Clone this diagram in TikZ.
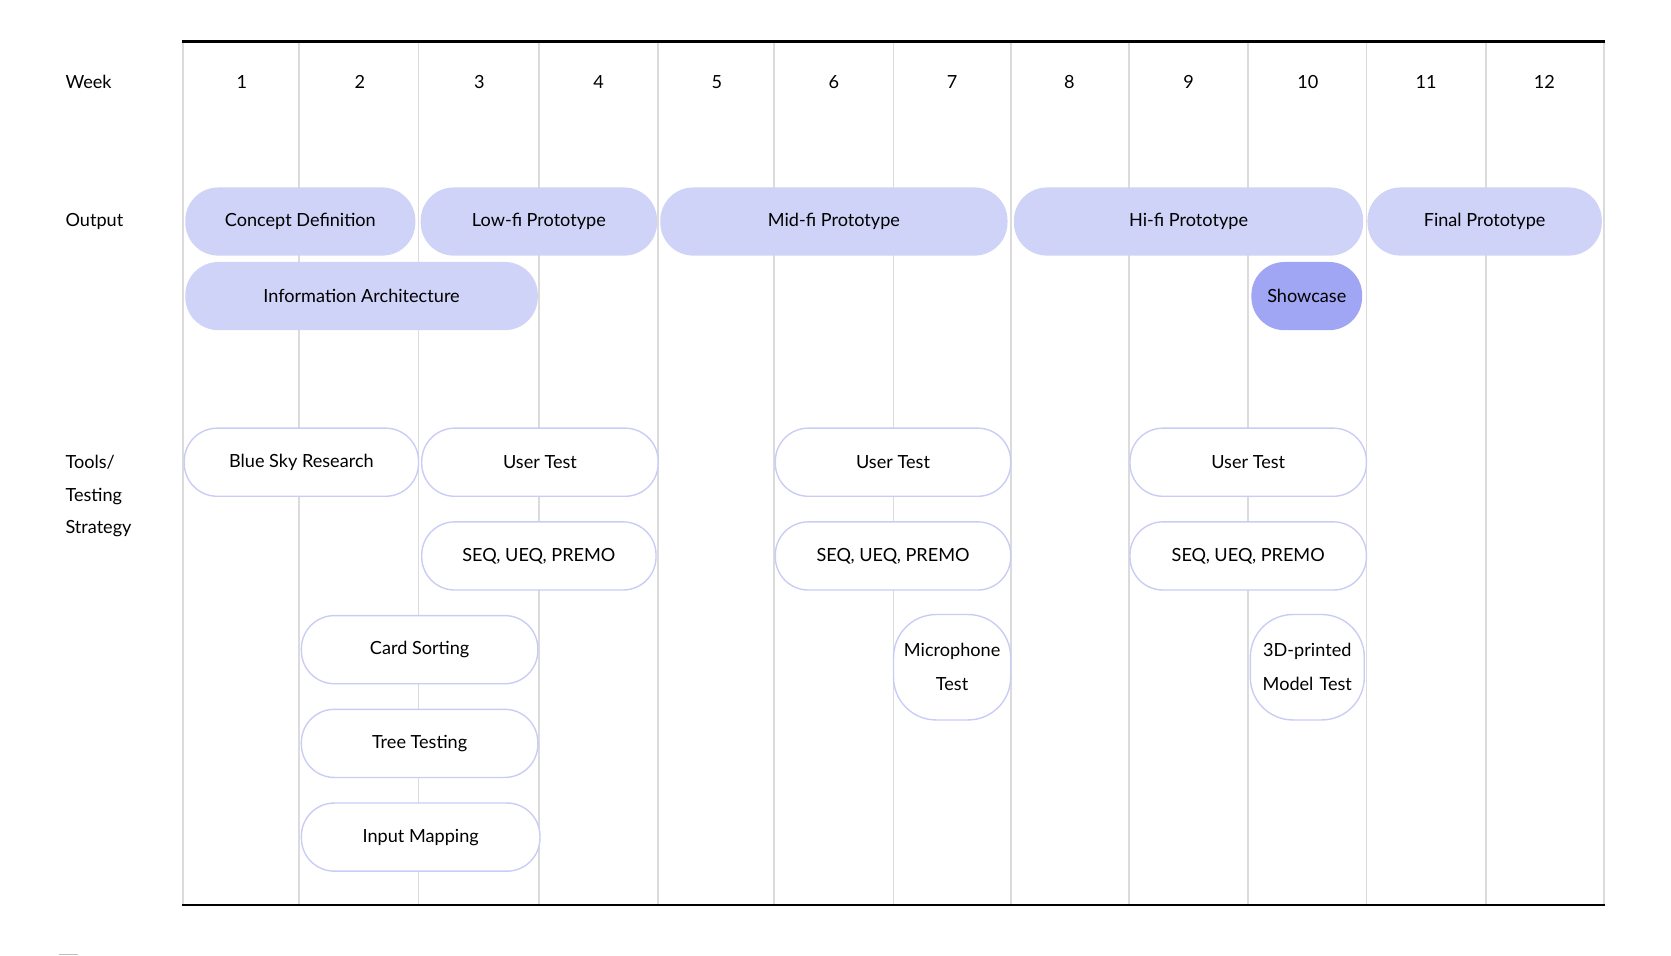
\documentclass[tikz,border=0pt]{standalone}
\usepackage{fontspec}
\setmainfont{Lato}
\begin{document}
\begin{tikzpicture}[x=1pt,y=-1pt,
  grid/.style={draw=black!14,line width=1.6pt},
  lab/.style={anchor=west,font=\fontsize{17}{20}\selectfont},
  wk/.style={font=\fontsize{17}{20}\selectfont},
  pill/.style={rectangle,rounded corners=31pt,minimum height=64pt,inner sep=0pt,font=\fontsize{17}{20}\selectfont,align=center},
  outp/.style={pill,fill=lav},
  showc/.style={pill,fill=lavd},
  tool/.style={pill,draw=lavb,line width=1.3pt,fill=white}]
\definecolor{lav}{HTML}{CFD3F8}
\definecolor{lavd}{HTML}{A0A5F4}
\definecolor{lavb}{HTML}{C9CDF6}
\useasboundingbox (0,0) rectangle (1569,897.6);
\foreach \x in {172,281,393,506,618,727,839,949,1060,1172,1283,1395,1506}
  \draw[grid] (\x,39) -- (\x,850);
\draw[line width=2pt] (171,39) -- (1507,39);
\draw[line width=2pt] (171,850) -- (1507,850);
\draw[black!25,line width=1pt] (55,896) -- (73,896);
\node[lab] (lw) at (58,77) {Week};
\node[lab] (lo) at (58,208) {Output};
\node[lab] (lt1) at (58,434) {Tools/};
\node[lab] (lt2) at (58,466) {Testing};
\node[lab] (lt3) at (58,496) {Strategy};
\foreach \n/\x in {1/227,2/338,3/450,4/562,5/673,6/783,7/894,8/1004,9/1116,10/1228,11/1339,12/1450}
  \node[wk] (w\n) at (\x,77) {\n};
% outputs
\node[outp,minimum width=216pt] (cd) at (282,208) {Concept Definition};
\node[outp,minimum width=222pt] (lf) at (506,208) {Low-fi Prototype};
\node[outp,minimum width=326pt] (mf) at (783,208) {Mid-fi Prototype};
\node[outp,minimum width=328pt] (hf) at (1116,208) {Hi-fi Prototype};
\node[outp,minimum width=220pt] (fp) at (1394,208) {Final Prototype};
\node[outp,minimum width=331pt] (ia) at (339.5,278) {Information Architecture};
\node[showc,minimum width=104pt] (sc) at (1227,278) {Showcase};
% tools
\node[tool,minimum width=220pt] (bs) at (283,434) {Blue Sky Research};
\node[tool,minimum width=222pt] (ut1) at (507,434) {User Test};
\node[tool,minimum width=221pt] (ut2) at (838.5,434) {User Test};
\node[tool,minimum width=222pt] (ut3) at (1172,434) {User Test};
\node[tool,minimum width=220pt] (sq1) at (506,522) {SEQ, UEQ, PREMO};
\node[tool,minimum width=221pt] (sq2) at (838.5,522) {SEQ, UEQ, PREMO};
\node[tool,minimum width=222pt] (sq3) at (1172,522) {SEQ, UEQ, PREMO};
\node[tool,minimum width=222pt] (cs) at (394,610) {Card Sorting};
\node[tool,minimum width=222pt] (tt) at (394,698) {Tree Testing};
\node[tool,minimum width=224pt] (im) at (395,786) {Input Mapping};
\node[tool,minimum width=110pt,minimum height=99pt,rounded corners=40pt,text width=106pt,font=\fontsize{17}{32}\selectfont] (mt) at (894,626.5) {Microphone\\Test};
\node[tool,minimum width=107pt,minimum height=99pt,rounded corners=40pt,text width=106pt,font=\fontsize{17}{32}\selectfont] (pm) at (1227.5,626.5) {3D-printed\\Model Test};
\end{tikzpicture}
\end{document}
